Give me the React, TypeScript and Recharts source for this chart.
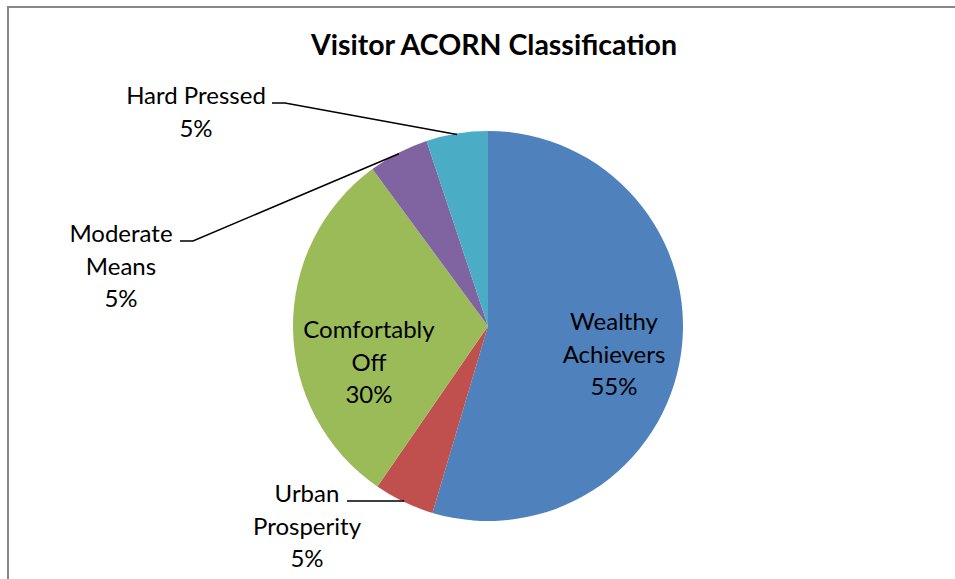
import { PieChart, Pie, Cell } from "recharts"

const CATEGORIES = ["Wealthy Achievers", "Urban Prosperity", "Comfortably Off", "Moderate Means", "Hard Pressed"]
const VISITOR_SHARE = [54.6, 5.0, 30.3, 5.0, 5.1]
const SLICE_COLORS = ["#4F81BD", "#C0504D", "#9BBB59", "#8064A2", "#4BACC6"]

// label placement: x is the text centre, y the first baseline; leader = [startX, elbowX, y]
const LABEL_LAYOUT: { x: number; y: number; wrap: boolean; leader: number[] | null }[] = [
  { x: 614, y: 330, wrap: true, leader: null },
  { x: 307, y: 502, wrap: true, leader: [347, 360, 501] },
  { x: 369, y: 338, wrap: true, leader: null },
  { x: 121, y: 242, wrap: true, leader: [180, 193, 241] },
  { x: 196, y: 104, wrap: false, leader: [272, 285, 103] },
]

const FONT = "Lato, 'Open Sans', sans-serif"
const RAD = Math.PI / 180

const chartData = CATEGORIES.map((name, i) => ({ name, value: VISITOR_SHARE[i] }))

function renderLabel(props: any) {
  const { cx, cy, midAngle, outerRadius, percent, index, name } = props
  const layout = LABEL_LAYOUT[index]
  const lines = layout.wrap ? name.split(" ") : [name]
  lines.push(`${Math.round(percent * 100)}%`)

  let leader = null
  if (layout.leader) {
    const [sx, ex, ly] = layout.leader
    // stop the leader just short of the arc, like the original
    const r = outerRadius - 1
    const px = cx + r * Math.cos(-midAngle * RAD)
    const py = cy + r * Math.sin(-midAngle * RAD)
    leader = (
      <polyline
        points={`${sx},${ly} ${ex},${ly} ${px},${py}`}
        fill="none"
        stroke="#000"
        strokeWidth={1.5}
      />
    )
  }

  return (
    <g key={`label-${index}`}>
      {leader}
      <text x={layout.x} y={layout.y} textAnchor="middle" fill="#000" fontSize={24} fontFamily={FONT}>
        {lines.map((line: string, i: number) => (
          <tspan key={i} x={layout.x} dy={i === 0 ? 0 : 32.5}>
            {line}
          </tspan>
        ))}
      </text>
    </g>
  )
}

export default function App() {
  return (
    <div style={{ position: "absolute", left: 0, top: 0, width: 955, height: 579, overflow: "hidden", background: "#fff" }}>
      <div
        style={{
          position: "absolute",
          left: 7,
          top: 6,
          width: 1000,
          height: 1000,
          borderLeft: "2px solid #878787",
          borderTop: "2px solid #878787",
        }}
      />
      <div style={{ position: "absolute", left: 0, top: 0 }}>
        <PieChart width={955} height={579} margin={{ top: 0, right: 0, bottom: 0, left: 0 }}>
          <text x={494} y={55} textAnchor="middle" fontSize={28.5} fontWeight="bold" fontFamily={FONT} fill="#000">
            Visitor ACORN Classification
          </text>
          <Pie
            data={chartData}
            dataKey="value"
            nameKey="name"
            cx={488}
            cy={326}
            outerRadius={195}
            startAngle={90}
            endAngle={-270}
            stroke="none"
            label={renderLabel}
            labelLine={false}
            isAnimationActive={false}
          >
            {chartData.map((entry, i) => (
              <Cell key={entry.name} fill={SLICE_COLORS[i]} />
            ))}
          </Pie>
        </PieChart>
      </div>
    </div>
  )
}
